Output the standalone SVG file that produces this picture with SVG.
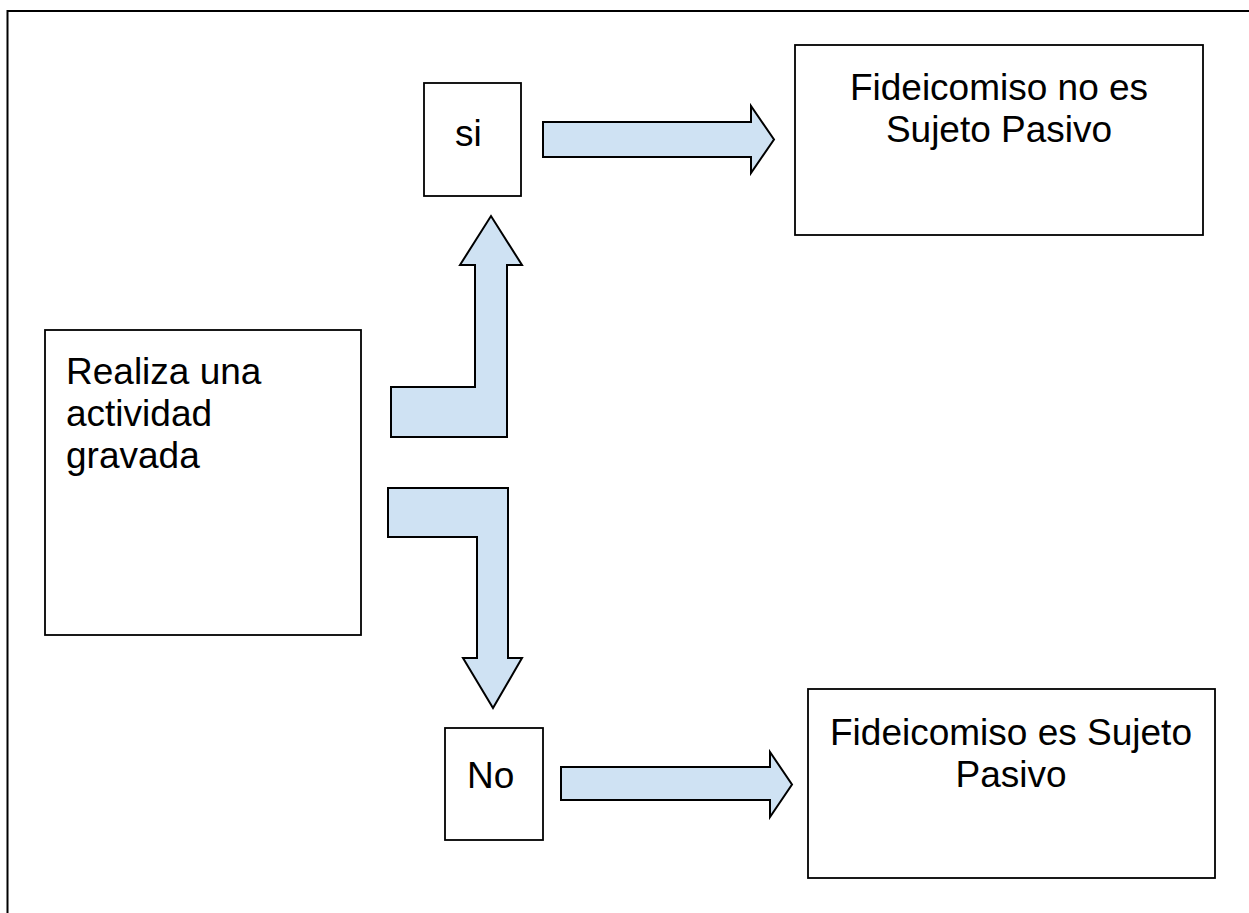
<svg xmlns="http://www.w3.org/2000/svg" width="1249" height="913" viewBox="0 0 1249 913">
<style>
.box{fill:#ffffff;stroke:#000000;stroke-width:1.8}
.arrow{fill:#cfe2f3;stroke:#000000;stroke-width:2;stroke-linejoin:miter}
.t{font-family:"Liberation Sans",Arial,sans-serif;font-size:37px;fill:#000000}
.c{text-anchor:middle}
</style>
<rect width="1249" height="913" fill="#ffffff"/>
<path d="M7.5,913 V11 H1249" fill="none" stroke="#000000" stroke-width="2"/>
<g id="node-realiza">
<rect class="box" x="45" y="330" width="316" height="305"/>
<text class="t" x="66" y="384">Realiza una</text>
<text class="t" x="66" y="426">actividad</text>
<text class="t" x="66" y="468">gravada</text>
</g>
<g id="node-si">
<rect class="box" x="424" y="83" width="97" height="113"/>
<text class="t" x="455" y="146">si</text>
</g>
<g id="node-no">
<rect class="box" x="445" y="728" width="98" height="112"/>
<text class="t" x="467" y="788">No</text>
</g>
<g id="node-no-sujeto">
<rect class="box" x="795" y="45" width="408" height="190"/>
<text class="t c" x="999" y="100">Fideicomiso no es</text>
<text class="t c" x="999" y="142">Sujeto Pasivo</text>
</g>
<g id="node-sujeto">
<rect class="box" x="808" y="689" width="407" height="189"/>
<text class="t c" x="1011" y="745">Fideicomiso es Sujeto</text>
<text class="t c" x="1011" y="787">Pasivo</text>
</g>
<g id="connectors">
<polygon class="arrow" points="391,387 475,387 475,265 460,265 491,216 522,265 507,265 507,437 391,437"/>
<polygon class="arrow" points="388,488 508,488 508,658 522,658 493,708 463,658 477,658 477,537 388,537"/>
<polygon class="arrow" points="543,122 751,122 751,106 774,139.5 751,173 751,157 543,157"/>
<polygon class="arrow" points="561,767 770,767 770,752 792,784.5 770,817 770,800 561,800"/>
</g>
</svg>
